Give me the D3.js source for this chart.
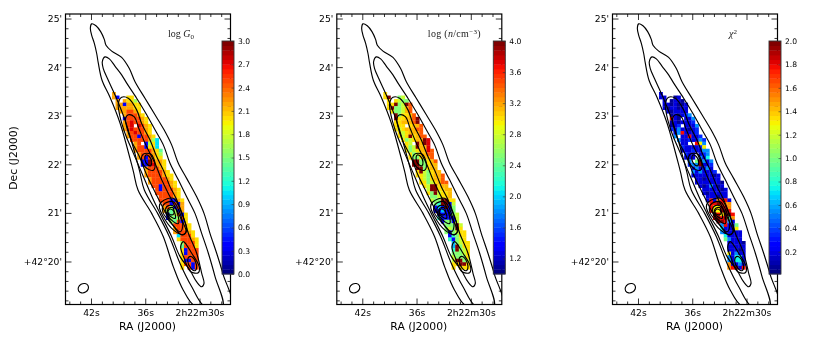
<!DOCTYPE html>
<html><head><meta charset="utf-8">
<script src="https://cdn.jsdelivr.net/npm/d3@7"></script>
<style>
html,body{margin:0;padding:0;background:#fff;overflow:hidden}
svg{display:block;font-family:"DejaVu Sans",sans-serif;filter:blur(0.3px)}
</style></head><body><div id="chart"></div>
<script>
// ---- data ----
const raTicks=[42,36,30];
const raTickLabels=["42s","36s","2h22m30s"];
const decTicks=[25,24,23,22,21,20];
const decTickLabels=["25'","24'","23'","22'","21'","+42°20'"];
const raMinor=[44.4,43.2,40.8,39.6,38.4,37.2,34.8,33.6,32.4,31.2,28.8,27.6];
const decMinor=[24.8,24.6,24.4,24.2,23.8,23.6,23.4,23.2,22.8,22.6,22.4,22.2,21.8,21.6,21.4,21.2,20.8,20.6,20.4,20.2,19.8,19.6,19.4,19.2];
const gridRa0=39.68, gridDec0=23.488, gridRaStep=0.398, gridDecStep=0.073;
const g0Levels=[0.4,1.05,1.4,1.65,2.0,2.2,2.5,2.75,3.0];
const nLevels=[1.4,1.9,2.2,2.5,2.75,3.0,3.15,3.4,3.7,4.0];
const chiLevels=[0.08,0.2,0.35,0.55,0.75,1.0,1.3,1.5,1.8,2.0];
const g0Rows=["5","50..44",".5.5443",".5505544",".5555544","..556654","...566654","...0666654","...5676654","...567.7654","...56766654","....5676654","....56606654",".....66666531","......56.0341","......5660441","......56666542",".......5666543",".......5606544","........0086554","........0087554",".........566654",".........5666654",".........56666544","..........5666654","..........56666654","...........6606654","............6066654","............6666654",".............666654",".............6660054","..............660605","..............563065","..............532305","...............023604","...............032364","................32604",".................66654",".................56654",".................566654","..................16664","..................466654","...................36664","...................26664","...................40666","...................40666","...................46666","...................40066","...................46606","...................4.606"];
const nRows=["5","59..34",".5.5433",".5593497",".5933467","..533467","...935567","...9556679","...5566679","...555.5667","...54566677","....5456667","....54595677",".....53456698","......54.9698","......5349668","......53456687",".......5346677",".......5335667","........9933567","........9933566",".........993566",".........5943566",".........55435667","..........5435667","..........55345677","...........5499566","............4995566","............5394556",".............334556",".............4339955","..............329904","..............010903","..............001003","...............000034","...............200004","................03304",".................33394",".................34395",".................303455","..................02355","..................20345","...................13455","...................19355","...................29345","...................33345","...................43335","...................49934","...................55995","...................5.555"];
const chiRows=["1","11..01",".1.0110",".1101001",".1011011","..101111","...010123","...810.113","...0101112","...012.1113","...21311012","....1381112","....3.118112",".....31121132","......11..863","......2111126","......11121133",".......211.123",".......111.314","........3.59313","........2339112",".........131131",".........3131112",".........11111101","..........1101111","..........11111110","...........1013101","............1111101","............1011111",".............111011",".............1817881","..............889877","..............866987","..............866998","...............986998","...............898957","................99831",".................38115",".................41116",".................311111","..................41111","..................53111","...................11110","...................11111","...................11101","...................61311","...................31441","...................31441","...................71131","...................78918"];
const contourOuter=[[41.93,24.89],[41.45,24.85],[40.93,24.73],[40.53,24.57],[40.34,24.45],[39.71,24.33],[38.61,24.20],[37.76,23.97],[37.13,23.70],[36.03,23.36],[34.92,23.02],[33.92,22.71],[33.08,22.40],[32.34,22.02],[31.42,21.71],[30.31,21.33],[29.50,20.99],[28.84,20.58],[28.10,20.17],[27.36,19.72],[26.44,19.07],[30.40,19.07],[31.79,19.41],[32.89,19.89],[34.00,20.51],[35.29,20.99],[36.80,21.47],[37.35,21.88],[38.79,22.85],[39.90,23.38],[40.78,23.73],[41.19,24.08],[41.37,24.28],[41.63,24.49],[41.93,24.66],[42.07,24.80]];
const contourSecond=[[40.45,24.21],[39.97,24.17],[39.35,24.02],[38.61,23.84],[38.05,23.67],[36.95,23.36],[35.84,23.02],[34.92,22.71],[34.00,22.40],[33.26,22.02],[32.34,21.68],[31.42,21.33],[30.50,20.99],[29.76,20.58],[29.02,20.17],[28.28,19.69],[27.44,19.07],[29.40,19.07],[30.86,19.48],[32.15,19.96],[33.33,20.51],[34.63,20.99],[36.10,21.47],[36.65,21.88],[38.13,22.85],[39.23,23.38],[40.19,23.77],[40.64,23.97],[40.75,24.11]];
const contourThird=[[38.61,23.38],[37.87,23.36],[36.95,23.12],[36.40,22.84],[35.47,22.50],[34.74,22.16],[34.00,21.88],[33.26,21.54],[32.52,21.27],[31.79,20.92],[31.23,20.58],[30.31,20.17],[29.76,19.76],[29.50,19.55],[29.76,19.48],[30.31,19.58],[31.05,19.82],[32.15,20.10],[33.08,20.51],[34.37,20.99],[35.10,21.27],[36.21,21.75],[37.32,22.23],[38.24,22.64],[38.79,22.98],[38.98,23.25]];
const contourRidge=[[37.87,23.02],[37.24,22.98],[36.65,22.71],[35.84,22.36],[34.92,22.02],[34.18,21.68],[33.26,21.33],[32.15,20.92],[31.49,20.61],[31.97,20.55],[33.08,20.78],[34.00,21.09],[35.03,21.47],[35.84,21.78],[36.65,22.16],[37.50,22.47],[38.05,22.77],[38.17,22.95]];
const ringNucleusA=[[35.92,22.19],[35.55,22.16],[35.29,22.05],[35.40,21.97],[35.73,21.99],[36.03,22.09]];
const ringNucleusB=[[36.21,22.21],[35.40,22.21],[34.92,22.02],[35.10,21.88],[35.84,21.92],[36.40,22.09]];
const ringSouthA=[[31.12,20.10],[30.68,20.07],[30.31,19.89],[30.50,19.81],[30.94,19.86],[31.31,20.02]];
const ringSouthB=[[31.79,20.41],[30.86,20.17],[30.02,19.89],[30.13,19.77],[30.97,19.79],[31.68,20.06],[32.08,20.30]];
const ringCentreOuter=[[34.18,21.23],[32.89,21.30],[31.97,20.99],[31.42,20.65],[31.79,20.55],[32.89,20.65],[34.00,20.92],[34.44,21.13]];
const ringCentreA=[[33.81,21.20],[32.89,21.23],[32.15,20.99],[31.86,20.72],[32.15,20.61],[33.08,20.78],[34.00,20.99],[34.11,21.11]];
const ringCentreB=[[33.45,21.15],[32.82,21.13],[32.34,20.92],[32.34,20.78],[32.89,20.82],[33.63,20.99],[33.74,21.09]];
const ringCentreC=[[33.26,21.08],[32.82,21.03],[32.67,20.89],[33.08,20.91],[33.52,21.01]];
const ringCentreD=[[33.45,21.09],[32.97,21.11],[32.82,20.99],[33.19,20.96],[33.52,21.02]];
const beamCentre=[42.85,19.45];
const g0Ticks=[0,0.3,0.6,0.9,1.2,1.5,1.8,2.1,2.4,2.7,3.0];
const nTicks=[1.2,1.6,2.0,2.4,2.8,3.2,3.6,4.0];
const chiTicks=[0.2,0.4,0.6,0.8,1.0,1.2,1.4,1.6,1.8,2.0];
const g0Range=[0,3], nRange=[1,4], chiRange=[0.01,2];

// ---- layout ----
const W=822,H=343;
const fL=65.5,fR=230.5,fT=14,fB=304.5;
const svg=d3.select("#chart").append("svg").attr("width",W).attr("height",H);
const x=d3.scaleLinear().domain([44.82,26.57]).range([fL,fR]);
const y=d3.scaleLinear().domain([25.093,19.115]).range([fT,fB]);
const cbY=[274,41], cbX=222, cbW=12;
const jetR=d3.scaleLinear().domain([0,.35,.66,.89,1]).range([0,0,1,1,.5]);
const jetG=d3.scaleLinear().domain([0,.125,.375,.64,.91,1]).range([0,0,1,1,0,0]);
const jetB=d3.scaleLinear().domain([0,.11,.34,.65,1]).range([.5,1,1,0,0]);
const bands=50;
const jet=t=>{const q=Math.min(Math.floor(t*bands),bands-1)/(bands-1);
  return d3.rgb(jetR(q)*255,jetG(q)*255,jetB(q)*255).formatHex();};
const contours=[contourOuter,contourSecond,contourThird,contourRidge,ringNucleusA,ringNucleusB,ringSouthA,ringSouthB,ringCentreOuter,ringCentreA,ringCentreB,ringCentreC,ringCentreD];
const lineGen=d3.line().x(d=>x(d[0])).y(d=>y(d[1])).curve(d3.curveCatmullRomClosed.alpha(0.5));
const panels=[
 {dx:0,rows:g0Rows,levels:g0Levels,range:g0Range,ticks:g0Ticks,fmt:".1f",id:"a",label:"g"},
 {dx:271.3,rows:nRows,levels:nLevels,range:nRange,ticks:nTicks,fmt:".1f",id:"b",label:"n"},
 {dx:547,rows:chiRows,levels:chiLevels,range:chiRange,ticks:chiTicks,fmt:".1f",id:"c",label:"c"}
];
const tk={size:9.2};
panels.forEach(p=>{
  const g=svg.append("g").attr("transform",`translate(${p.dx},0)`);
  g.append("clipPath").attr("id","clip"+p.id).append("rect").attr("x",fL).attr("y",fT).attr("width",fR-fL).attr("height",fB-fT);
  const plot=g.append("g").attr("clip-path",`url(#clip${p.id})`);
  const cells=[];
  p.rows.forEach((row,r)=>{[...row].forEach((ch,c)=>{if(ch!=="."){cells.push({r,c,v:p.levels[+ch]});}});});
  const t=d3.scaleLinear().domain(p.range).range([0,1]).clamp(true);
  plot.selectAll("rect.cell").data(cells).join("rect").attr("class","cell")
    .attr("x",d=>x(gridRa0-d.c*gridRaStep))
    .attr("y",d=>y(gridDec0-d.r*gridDecStep))
    .attr("width",x(gridRa0-gridRaStep)-x(gridRa0)+0.3)
    .attr("height",y(gridDec0-gridDecStep)-y(gridDec0)+0.3)
    .attr("fill",d=>jet(t(d.v)));
  plot.selectAll("path.ct").data(contours).join("path").attr("class","ct")
    .attr("d",lineGen).attr("fill","none").attr("stroke","#000").attr("stroke-width",1.15);
  plot.append("ellipse").attr("cx",x(beamCentre[0])).attr("cy",y(beamCentre[1]))
    .attr("rx",5.4).attr("ry",4.5)
    .attr("transform",`rotate(-30 ${x(beamCentre[0])} ${y(beamCentre[1])})`)
    .attr("fill","none").attr("stroke","#000").attr("stroke-width",1.15);
  // frame axes
  const mk=(gen,tr,vals,size,fmt)=>{
    const a=g.append("g").attr("transform",tr).call(gen.tickValues(vals).tickSize(size).tickSizeOuter(0).tickPadding(3).tickFormat(fmt||""));
    a.select(".domain").remove();
    a.selectAll("line").attr("stroke","#000").attr("stroke-width",0.8);
    return a;
  };
  const bot=mk(d3.axisBottom(x),`translate(0,${fB})`,raTicks,-6,(d,i)=>raTickLabels[i]);
  bot.selectAll("text").attr("font-size",tk.size).attr("fill","#000").attr("dy","0.95em").attr("font-family","DejaVu Sans");
  bot.selectAll("text").attr("y",3);
  mk(d3.axisBottom(x),`translate(0,${fB})`,raMinor,-3);
  mk(d3.axisTop(x),`translate(0,${fT})`,raTicks,-6);
  mk(d3.axisTop(x),`translate(0,${fT})`,raMinor,-3);
  const lft=mk(d3.axisLeft(y),`translate(${fL},0)`,decTicks,-6,(d,i)=>decTickLabels[i]);
  lft.selectAll("text").attr("font-size",tk.size).attr("fill","#000").attr("x",-3.5).attr("font-family","DejaVu Sans");
  mk(d3.axisLeft(y),`translate(${fL},0)`,decMinor,-3);
  mk(d3.axisRight(y),`translate(${fR},0)`,decTicks,-6);
  mk(d3.axisRight(y),`translate(${fR},0)`,decMinor,-3);
  g.append("rect").attr("x",fL).attr("y",fT).attr("width",fR-fL).attr("height",fB-fT)
    .attr("fill","none").attr("stroke","#000").attr("stroke-width",1.2);
  g.append("text").attr("x",(fL+fR)/2-.5).attr("y",329.5).attr("text-anchor","middle").attr("font-size",10.8).attr("fill","#000").text("RA (J2000)");
  // colour bar
  const cb=d3.scaleLinear().domain(p.range).range(cbY);
  const bandVals=d3.range(bands);
  g.selectAll("rect.band").data(bandVals).join("rect").attr("class","band")
    .attr("x",cbX).attr("width",cbW)
    .attr("y",d=>cb(p.range[0]+(d+1)/bands*(p.range[1]-p.range[0])))
    .attr("height",(cbY[0]-cbY[1])/bands+0.4)
    .attr("fill",d=>jet((d+.5)/bands));
  g.append("rect").attr("x",cbX).attr("y",cbY[1]).attr("width",cbW).attr("height",cbY[0]-cbY[1])
    .attr("fill","none").attr("stroke","#333").attr("stroke-width",0.9);
  const ax=g.append("g").attr("transform",`translate(${cbX+cbW},0)`)
    .call(d3.axisRight(cb).tickValues(p.ticks).tickSize(-2.5).tickSizeOuter(0).tickPadding(4).tickFormat(d3.format(p.fmt)));
  ax.select(".domain").remove();
  ax.selectAll("line").attr("stroke","#333").attr("stroke-width",.6);
  ax.selectAll("text").attr("font-size",7.6).attr("fill","#000").attr("font-family","DejaVu Sans");
  // panel label
  const lab=g.append("text").attr("font-family","Liberation Serif,DejaVu Serif,serif").attr("fill","#222").attr("font-size",10).attr("letter-spacing",p.label==="n"?0.3:0).attr("y",37);
  if(p.label==="g"){
    lab.attr("x",168);
    lab.append("tspan").text("log ");
    lab.append("tspan").attr("font-style","italic").text("G");
    lab.append("tspan").attr("dy",2).attr("font-size",7).text("0");
  } else if(p.label==="n"){
    lab.attr("x",156.5);
    lab.append("tspan").text("log (");
    lab.append("tspan").attr("font-style","italic").text("n");
    lab.append("tspan").text("/cm");
    lab.append("tspan").attr("dy",-3).attr("font-size",7).text("−3");
    lab.append("tspan").attr("dy",3).text(")");
  } else {
    lab.attr("x",182);
    lab.append("tspan").attr("font-style","italic").text("χ");
    lab.append("tspan").attr("dy",-3).attr("font-size",7).text("2");
  }
});
svg.append("text").attr("transform","translate(17,158) rotate(-90)").attr("text-anchor","middle")
  .attr("font-size",10.8).attr("fill","#000").text("Dec (J2000)");
</script></body></html>
